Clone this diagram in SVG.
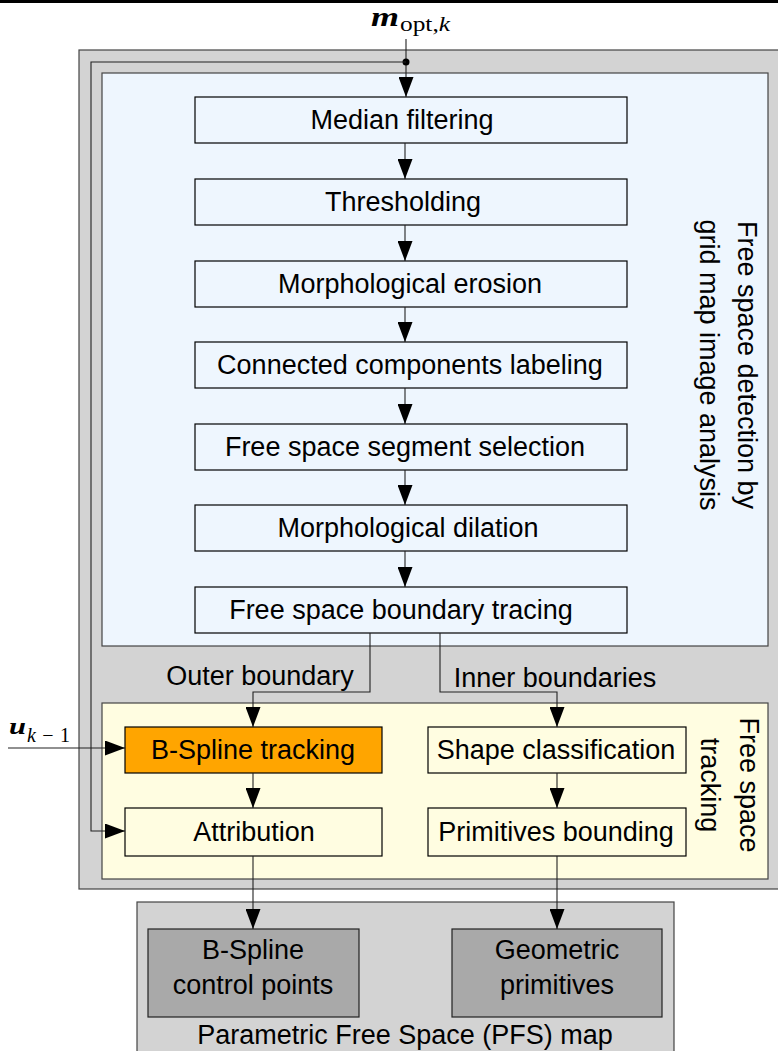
<svg xmlns="http://www.w3.org/2000/svg" width="778" height="1051" viewBox="0 0 778 1051">
<defs>
<marker id="arr" markerUnits="userSpaceOnUse" markerWidth="21" markerHeight="15" refX="20" refY="7.5" orient="auto">
<path d="M0,0 L20,7.5 L0,15 z" fill="#000"/>
</marker>
<style>
.t{font-family:"Liberation Sans",Arial,sans-serif;font-size:27px;fill:#000}
.m{font-family:"Liberation Serif","Times New Roman",serif;fill:#000}
.box{fill:#eef6fe;stroke:#000;stroke-width:1.2}
.ybox{fill:#fffde1;stroke:#000;stroke-width:1.2}
.gbox{fill:#a9a9a9;stroke:#222;stroke-width:1.2}
.c{fill:none;stroke:#222;stroke-width:1.1}
.ca{fill:none;stroke:#222;stroke-width:1.1;marker-end:url(#arr)}
</style>
</defs>
<rect x="0" y="0" width="778" height="3" fill="#000"/>
<g id="containers">
<rect x="79" y="50" width="710" height="839" fill="#d3d3d3" stroke="#444" stroke-width="1.2"/>
<rect x="102" y="73" width="666" height="573" fill="#eef6fe" stroke="#444" stroke-width="1.2"/>
<rect x="102" y="703" width="666" height="176" fill="#fffde1" stroke="#444" stroke-width="1.2"/>
<rect x="137" y="902" width="537" height="160" fill="#d3d3d3" stroke="#444" stroke-width="1.2"/>
</g>
<g id="labels">
<text class="m" x="371" y="26" textLength="28" lengthAdjust="spacingAndGlyphs" style="font-size:27px;font-weight:bold;font-style:italic">m</text>
<text class="m" x="400" y="31" textLength="50" lengthAdjust="spacingAndGlyphs" style="font-size:20px">opt,<tspan style="font-style:italic">k</tspan></text>
<text class="m" x="9" y="734" textLength="17" lengthAdjust="spacingAndGlyphs" style="font-size:24px;font-weight:bold;font-style:italic">u</text>
<text class="m" x="27" y="742" textLength="43" style="font-size:20px"><tspan style="font-style:italic">k</tspan>−1</text>
<text class="t" transform="translate(738,365) rotate(90)" text-anchor="middle">Free space detection by</text>
<text class="t" transform="translate(700,365) rotate(90)" text-anchor="middle">grid map image analysis</text>
<text class="t" transform="translate(740,785) rotate(90)" text-anchor="middle">Free space</text>
<text class="t" transform="translate(701,785) rotate(90)" text-anchor="middle">tracking</text>
<text class="t" x="260" y="685" text-anchor="middle">Outer boundary</text>
<text class="t" x="555" y="687" text-anchor="middle">Inner boundaries</text>
<text class="t" x="405" y="1044" text-anchor="middle">Parametric Free Space (PFS) map</text>
</g>
<g id="n1"><rect class="box" x="195" y="97" width="432" height="46"/><text class="t" x="402" y="129" text-anchor="middle">Median filtering</text></g>
<g id="n2"><rect class="box" x="195" y="179" width="432" height="46"/><text class="t" x="403" y="211" text-anchor="middle">Thresholding</text></g>
<g id="n3"><rect class="box" x="195" y="261" width="432" height="46"/><text class="t" x="410" y="293" text-anchor="middle">Morphological erosion</text></g>
<g id="n4"><rect class="box" x="195" y="342" width="432" height="46"/><text class="t" x="410" y="374" text-anchor="middle">Connected components labeling</text></g>
<g id="n5"><rect class="box" x="195" y="424" width="432" height="46"/><text class="t" x="405" y="456" text-anchor="middle">Free space segment selection</text></g>
<g id="n6"><rect class="box" x="195" y="505" width="432" height="46"/><text class="t" x="408" y="537" text-anchor="middle">Morphological dilation</text></g>
<g id="n7"><rect class="box" x="195" y="587" width="432" height="46"/><text class="t" x="401" y="619" text-anchor="middle">Free space boundary tracing</text></g>
<g id="n8"><rect x="125" y="727" width="257" height="46" fill="#ffa500" stroke="#000" stroke-width="1.2"/><text class="t" x="253" y="759" text-anchor="middle">B-Spline tracking</text></g>
<g id="n9"><rect class="ybox" x="125" y="808" width="257" height="48"/><text class="t" x="254" y="841" text-anchor="middle">Attribution</text></g>
<g id="n10"><rect class="ybox" x="428" y="727" width="258" height="46"/><text class="t" x="556" y="759" text-anchor="middle">Shape classification</text></g>
<g id="n11"><rect class="ybox" x="428" y="808" width="258" height="48"/><text class="t" x="556" y="841" text-anchor="middle">Primitives bounding</text></g>
<g id="n12"><rect class="gbox" x="148" y="929" width="211" height="88"/><text class="t" x="253" y="959" text-anchor="middle">B-Spline</text><text class="t" x="253" y="994" text-anchor="middle">control points</text></g>
<g id="n13"><rect class="gbox" x="452" y="929" width="210" height="88"/><text class="t" x="557" y="959" text-anchor="middle">Geometric</text><text class="t" x="557" y="994" text-anchor="middle">primitives</text></g>
<g id="connectors">
<path class="ca" d="M406,39 V97"/>
<circle cx="406" cy="62" r="3.5" fill="#000"/>
<path class="ca" d="M406,62 H91 V831 H125"/>
<path class="ca" d="M405,143 V179"/>
<path class="ca" d="M405,225 V261"/>
<path class="ca" d="M405,307 V342"/>
<path class="ca" d="M405,388 V424"/>
<path class="ca" d="M405,470 V505"/>
<path class="ca" d="M405,551 V587"/>
<path class="ca" d="M370,633 V692 H253 V727"/>
<path class="ca" d="M440,633 V692 H557 V727"/>
<path class="ca" d="M8,748 H125"/>
<path class="ca" d="M253,773 V808"/>
<path class="ca" d="M557,773 V808"/>
<path class="ca" d="M253,856 V929"/>
<path class="ca" d="M557,856 V929"/>
</g>
</svg>
